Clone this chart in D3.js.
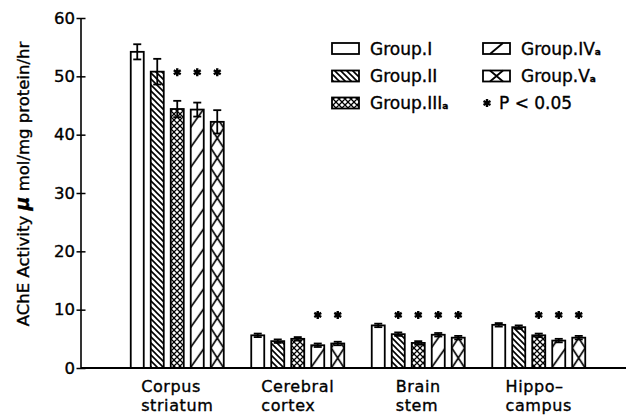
<!DOCTYPE html>
<html><head><meta charset="utf-8">
<script src="https://cdn.jsdelivr.net/npm/d3@7/dist/d3.min.js"></script>
<style>
body{margin:0;background:#fff;}
svg{display:block;}
text{font-family:"DejaVu Sans",sans-serif;fill:#000;stroke:#000;stroke-width:0.35px;}
</style></head>
<body><svg id="chart" width="631" height="419"></svg>
<script>
// ---- data ----
const categories = ["Corpus striatum", "Cerebral cortex", "Brain stem", "Hippocampus"];
const categoryLines = [["Corpus", "striatum"], ["Cerebral", "cortex"], ["Brain", "stem"], ["Hippo\u2013", "campus"]];
const groups = ["Group.I", "Group.II", "Group.III", "Group.IV", "Group.V"];
const groupSuffix = ["", "", "a", "a", "a"];
const groupI   = [54.2, 5.6, 7.3, 7.4];
const groupII  = [50.8, 4.6, 5.8, 7.0];
const groupIII = [44.4, 5.0, 4.3, 5.6];
const groupIV  = [44.3, 3.9, 5.7, 4.7];
const groupV   = [42.2, 4.2, 5.2, 5.2];
const errI   = [1.3, 0.3, 0.3, 0.3];
const errII  = [2.2, 0.3, 0.3, 0.3];
const errIII = [1.4, 0.3, 0.3, 0.3];
const errIV  = [1.2, 0.3, 0.3, 0.3];
const errV   = [2.0, 0.3, 0.3, 0.3];
const sigI   = [0, 0, 0, 0];
const sigII  = [0, 0, 1, 0];
const sigIII = [1, 0, 1, 1];
const sigIV  = [1, 1, 1, 1];
const sigV   = [1, 1, 1, 1];
const starLevel = [50.7, 9.1, 9.1, 9.1];
const yTicks = [0, 10, 20, 30, 40, 50, 60];
const yLabel = "AChE Activity ";
const yLabelMu = "\u03bc";
const yLabelRest = " mol/mg protein/hr";
const sigLabel = "P < 0.05";

const values = [groupI, groupII, groupIII, groupIV, groupV];
const errs = [errI, errII, errIII, errIV, errV];
const sigs = [sigI, sigII, sigIII, sigIV, sigV];

const svg = d3.select("#chart");
const defs = svg.append("defs");

const y = d3.scaleLinear().domain([0, 60]).range([368, 18]);
const x0 = d3.scaleBand().domain(categories).range([117, 599]).paddingInner(0).paddingOuter(0);
const x1 = d3.scaleBand().domain(groups).range([-50, 50]).paddingInner(0.35).paddingOuter(0.175);

// patterns
const p2 = defs.append("pattern").attr("id", "hatch2").attr("patternUnits", "userSpaceOnUse")
  .attr("width", 6).attr("height", 6);
p2.append("path").attr("d", "M-1,-1 L7,7 M-4,2 L2,8 M4,-2 L10,4").attr("stroke", "#000").attr("stroke-width", 1.6);
const p3 = defs.append("pattern").attr("id", "hatch3").attr("patternUnits", "userSpaceOnUse")
  .attr("width", 6).attr("height", 6);
p3.append("path").attr("d", "M-1,-1 L7,7 M-4,2 L2,8 M4,-2 L10,4 M-1,7 L7,-1 M-4,4 L2,-2 M4,8 L10,2")
  .attr("stroke", "#000").attr("stroke-width", 1.3);

const bars = [];
categories.forEach((c, ci) => {
  groups.forEach((g, gi) => {
    bars.push({c, ci, g, gi, v: values[gi][ci], e: errs[gi][ci], s: sigs[gi][ci]});
  });
});

const bw = x1.bandwidth();
function barX(d) { return x0(d.c) + x0.bandwidth() / 2 + x1(d.g); }

// per-bar patterns for IV and V (aligned to the bar)
bars.forEach((d, i) => {
  if (d.gi === 3) {
    const p = defs.append("pattern").attr("id", "pb" + i).attr("patternUnits", "userSpaceOnUse")
      .attr("x", barX(d)).attr("y", y(0)).attr("width", bw).attr("height", 20);
    p.append("path").attr("d", `M-2,22 L${bw + 2},-2`).attr("stroke", "#000").attr("stroke-width", 1.7);
  } else if (d.gi === 4) {
    const p = defs.append("pattern").attr("id", "pb" + i).attr("patternUnits", "userSpaceOnUse")
      .attr("x", barX(d)).attr("y", y(0)).attr("width", bw).attr("height", 20);
    p.append("path").attr("d", `M0,0 L${bw},20 M0,20 L${bw},0`).attr("stroke", "#000").attr("stroke-width", 1.7);
  }
});

function fillFor(d, i) {
  if (d.gi === 0) return "#fff";
  if (d.gi === 1) return "url(#hatch2)";
  if (d.gi === 2) return "url(#hatch3)";
  return `url(#pb${i})`;
}

svg.append("g").selectAll("rect").data(bars).join("rect")
  .attr("x", d => barX(d)).attr("y", d => y(d.v))
  .attr("width", bw).attr("height", d => y(0) - y(d.v))
  .attr("fill", (d, i) => fillFor(d, i))
  .attr("stroke", "#000").attr("stroke-width", 1.8);

// error bars
const eg = svg.append("g").attr("stroke", "#000").attr("stroke-width", 1.8);
bars.forEach(d => {
  const cx = barX(d) + bw / 2;
  eg.append("line").attr("x1", cx).attr("x2", cx).attr("y1", y(d.v - d.e)).attr("y2", y(d.v + d.e));
  eg.append("line").attr("x1", cx - 4).attr("x2", cx + 4).attr("y1", y(d.v + d.e)).attr("y2", y(d.v + d.e));
  eg.append("line").attr("x1", cx - 4).attr("x2", cx + 4).attr("y1", y(d.v - d.e)).attr("y2", y(d.v - d.e));
});

// significance stars
const star = d3.symbol().type(d3.symbolAsterisk).size(45);
svg.append("g").selectAll("path").data(bars.filter(d => d.s)).join("path")
  .attr("d", star)
  .attr("transform", d => `translate(${barX(d) + bw / 2},${y(starLevel[d.ci])})`)
  .attr("stroke", "#000").attr("stroke-width", 2.4).attr("fill", "none");

// axes
const yAxis = svg.append("g").attr("transform", `translate(81,0)`)
  .call(d3.axisLeft(y).tickValues(yTicks).tickSize(4).tickPadding(2));
yAxis.select(".domain").remove();
yAxis.selectAll(".tick line").attr("x1", -4.5).attr("x2", 4.5).attr("stroke-width", 1.5);
yAxis.selectAll(".tick text").attr("font-size", 16.5).attr("font-family", "DejaVu Sans").attr("x", -6);
svg.append("line").attr("x1", 81).attr("x2", 81).attr("y1", y(60)).attr("y2", y(0))
  .attr("stroke", "#000").attr("stroke-width", 1.6);
svg.append("line").attr("x1", 81).attr("x2", 626).attr("y1", y(0)).attr("y2", y(0))
  .attr("stroke", "#000").attr("stroke-width", 1.8);

// category labels
categories.forEach((c, ci) => {
  const gx = x0(c) + x0.bandwidth() / 2;
  const t = svg.append("g");
  const lines = categoryLines[ci].map((s, li) => t.append("text").attr("y", 392 + li * 18.5)
    .attr("font-size", 16).attr("letter-spacing", 0.6).text(s));
  const w = d3.max(lines, l => l.node().getComputedTextLength());
  lines.forEach(l => l.attr("x", gx - w / 2));
});

// y label
const yl = svg.append("text").attr("transform", "translate(29,184) rotate(-90)")
  .attr("text-anchor", "middle").attr("font-size", 16.5);
yl.append("tspan").text(yLabel);
yl.append("tspan").attr("font-style", "italic").attr("font-weight", "bold").attr("font-size", 19).text(yLabelMu);
yl.append("tspan").text(yLabelRest);

// legend
const legPos = [[332, 48.5], [332, 76], [332, 103], [483, 48.5], [483, 76]];
const lg = svg.append("g");
groups.forEach((g, gi) => {
  const [lx, ly] = legPos[gi];
  const bx = lx, by = ly - 5.5, W = 27, H = 11;
  const fill = gi === 1 ? "url(#hatch2)" : gi === 2 ? "url(#hatch3)" : "#fff";
  lg.append("rect").attr("x", bx).attr("y", by).attr("width", W).attr("height", H)
    .attr("fill", fill).attr("stroke", "#000").attr("stroke-width", 1.8);
  if (gi === 3) {
    lg.append("line").attr("x1", bx + 7).attr("y1", by + H).attr("x2", bx + 20).attr("y2", by)
      .attr("stroke", "#000").attr("stroke-width", 1.8);
  }
  if (gi === 4) {
    lg.append("path").attr("d", `M${bx + 7},${by} L${bx + 20},${by + H} M${bx + 7},${by + H} L${bx + 20},${by}`)
      .attr("stroke", "#000").attr("stroke-width", 1.8);
  }
  const t = lg.append("text").attr("x", lx + 38).attr("y", ly + 6).attr("font-size", 17).text(g);
  if (groupSuffix[gi]) t.append("tspan").attr("font-size", 9).attr("font-weight", "bold").text(groupSuffix[gi]);
});
lg.append("path").attr("d", star).attr("transform", "translate(487,103)")
  .attr("stroke", "#000").attr("stroke-width", 2.4).attr("fill", "none");
lg.append("text").attr("x", 499).attr("y", 109).attr("font-size", 17).text(sigLabel);
</script></body></html>
